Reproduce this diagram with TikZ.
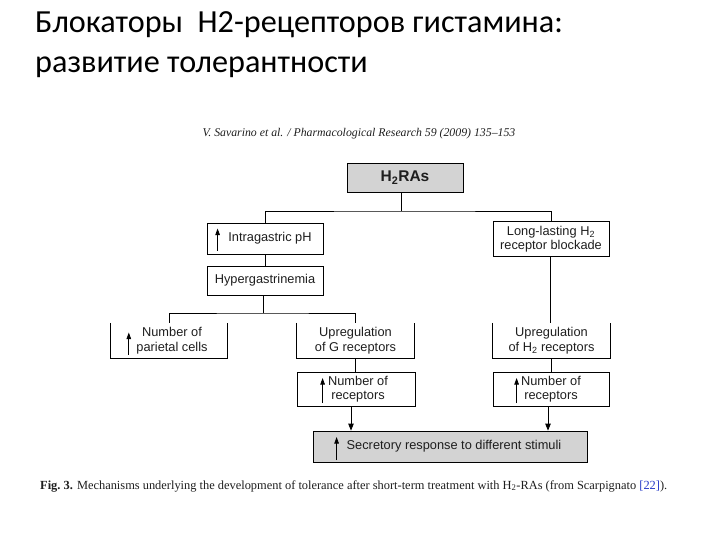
\documentclass[tikz,border=0pt]{standalone}
\usepackage{fontspec}
\setmainfont{Liberation Sans}
\newfontfamily\titlefont{Carlito}
\newfontfamily\serifrm{Liberation Serif}
\usetikzlibrary{arrows.meta}
\definecolor{boxgray}{RGB}{211,211,211}
\definecolor{refblue}{RGB}{40,60,200}
\definecolor{txt}{RGB}{30,30,30}
\begin{document}
\begin{tikzpicture}[x=1pt,y=-1pt,
  box/.style={draw, line width=0.8pt, inner sep=0pt, align=center, text=txt,
    font=\fontsize{12.8}{14.5}\selectfont},
  openbox/.style={inner sep=0pt, align=center, text=txt,
    font=\fontsize{12.8}{14.5}\selectfont},
  conn/.style={line width=0.8pt},
  arr/.style={line width=0.8pt, -{Triangle[length=7pt,width=5.5pt]}},
  uparr/.style={line width=0.8pt, -{Triangle[length=6.5pt,width=4.5pt]}}]
\useasboundingbox (0,0) rectangle (720,540);

% title
\node[anchor=base west, inner sep=0pt, font=\titlefont\fontsize{32.2}{32}\selectfont] (t1) at (35,33) {Блокаторы\ \ H2-рецепторов гистамина:};
\node[anchor=base west, inner sep=0pt, font=\titlefont\fontsize{32.2}{32}\selectfont] (t2) at (35,73) {развитие толерантности};

% citation
\node[anchor=base, inner sep=0pt, text=txt, font=\serifrm\itshape\fontsize{11.8}{12}\selectfont] (cite) at (359,137) {V. Savarino et al. / Pharmacological Research 59 (2009) 135–153};

% boxes
\node[box, fill=boxgray, minimum width=116pt, minimum height=29pt, font=\bfseries\fontsize{15.5}{17}\selectfont] (h2) at (405,177.5) {H\textsubscript{2}RAs};
\node[box, minimum width=116pt, minimum height=31pt] (ph) at (265,238.5) {\hspace*{10pt}Intragastric pH};
\node[box, minimum width=116pt, minimum height=29pt] (hyp) at (265,280.5) {Hypergastrinemia};
\node[box, minimum width=116pt, minimum height=35pt] (long) at (551,239) {Long-lasting H\textsubscript{2}\\receptor blockade};

\node[openbox, minimum width=116pt, minimum height=35pt] (par) at (169,340.5) {\hspace*{6pt}Number of\\\hspace*{6pt}parietal cells};
\node[openbox, minimum width=117pt, minimum height=35pt] (greg) at (355.5,340.5) {Upregulation\\of G receptors};
\node[openbox, minimum width=117pt, minimum height=35pt] (hreg) at (551.5,340.5) {Upregulation\\of H\textsubscript{2} receptors};
\foreach \n in {par,greg,hreg}
  \draw[conn] (\n.north west) -- (\n.south west) -- (\n.south east) -- (\n.north east);

\node[box, minimum width=118pt, minimum height=34pt] (nr1) at (356,389) {\hspace*{4pt}Number of\\\hspace*{4pt}receptors};
\node[box, minimum width=116pt, minimum height=34pt] (nr2) at (551,389) {Number of\\receptors};
\node[box, fill=boxgray, minimum width=274pt, minimum height=31pt] (sec) at (450,446.5) {\hspace*{8pt}Secretory response to different stimuli};

% connectors
\coordinate (split1) at (401,211);
\coordinate (split2) at (263,313);
\draw[conn] (h2.south -| split1) -- (split1);
\draw[conn] (ph.north) |- (split1) -| (long.north);
\draw[conn] (ph) -- (hyp);
\draw[conn] (hyp.south -| split2) -- (split2);
\draw[conn] (par.north) |- (split2) -| (greg.north);
\draw[conn] ([xshift=-0.5pt]long.south) -- ([xshift=-0.5pt]long.south |- hreg.north);
\draw[conn] (greg.south) -- (nr1.north -| greg.south);
\draw[conn] (hreg.south) -- (nr2.north -| hreg.south);
\draw[arr] ([xshift=-5pt]nr1.south) -- ([xshift=-5pt]nr1.south |- sec.north);
\draw[arr] ([xshift=-3pt]nr2.south) -- ([xshift=-3pt]nr2.south |- sec.north);

% up arrows inside boxes
\draw[uparr] (ph.west) ++(11,12) -- ++(0,-22);
\draw[uparr] (par.west) ++(18,14) -- ++(0,-22);
\draw[uparr] (nr1.west) ++(26,14) -- ++(0,-25);
\draw[uparr] (nr2.west) ++(24,14) -- ++(0,-25);
\draw[uparr] (sec.west) ++(24,13.5) -- ++(0,-23);

% caption
\node[anchor=base west, inner sep=0pt, text=txt, font=\serifrm\fontsize{12.4}{12.4}\selectfont] (cap) at (40,489) {\textbf{Fig.~3.} Mechanisms underlying the development of tolerance after short-term treatment with H\textsubscript{2}-RAs (from Scarpignato \textcolor{refblue}{[22]}).};
\end{tikzpicture}
\end{document}
